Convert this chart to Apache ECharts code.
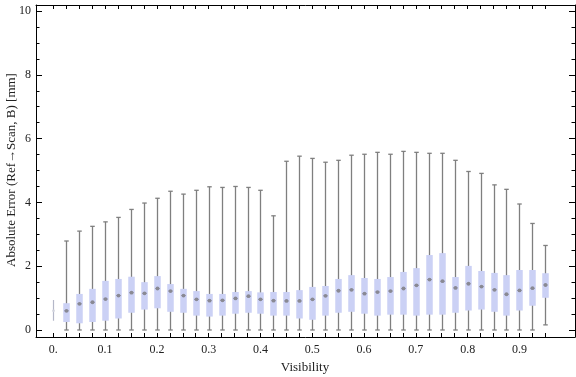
<!DOCTYPE html>
<html>
<head>
<meta charset="utf-8">
<script src="https://cdn.jsdelivr.net/npm/echarts@6/dist/echarts.min.js"></script>
<style>
html,body{margin:0;padding:0;background:#fff;}
#chart{width:576px;height:377px;}
</style>
</head>
<body>
<div id="chart"></div>
<script>
// ---- data ----
const visibility = [0, 0.025, 0.05, 0.075, 0.1, 0.125, 0.15, 0.175, 0.2, 0.225,
  0.25, 0.275, 0.3, 0.325, 0.35, 0.375, 0.4, 0.425, 0.45, 0.475,
  0.5, 0.525, 0.55, 0.575, 0.6, 0.625, 0.65, 0.675, 0.7, 0.725,
  0.75, 0.775, 0.8, 0.825, 0.85, 0.875, 0.9, 0.925, 0.95];
const minVals = [0.29, 0, 0, 0, 0, 0, 0, 0, 0, 0,
  0, 0, 0, 0, 0, 0, 0, 0, 0, 0,
  0, 0, 0, 0, 0, 0, 0, 0, 0, 0,
  0, 0, 0, 0, 0, 0, 0, 0, 0.16];
const q1Vals = [null, 0.25, 0.21, 0.25, 0.29, 0.36, 0.54, 0.64, 0.68, 0.57,
  0.54, 0.45, 0.42, 0.45, 0.51, 0.54, 0.51, 0.45, 0.45, 0.36,
  0.32, 0.45, 0.54, 0.57, 0.51, 0.45, 0.48, 0.48, 0.45, 0.48,
  0.48, 0.54, 0.61, 0.64, 0.57, 0.45, 0.61, 0.76, 1.01];
const medianVals = [0.60, 0.60, 0.82, 0.87, 0.97, 1.08, 1.17, 1.15, 1.30, 1.22,
  1.08, 0.96, 0.92, 0.93, 0.99, 1.06, 0.96, 0.92, 0.91, 0.91,
  0.96, 1.07, 1.23, 1.26, 1.14, 1.19, 1.22, 1.30, 1.40, 1.58,
  1.53, 1.32, 1.45, 1.36, 1.26, 1.12, 1.24, 1.31, 1.41];
const q3Vals = [null, 0.84, 1.13, 1.29, 1.54, 1.60, 1.67, 1.50, 1.69, 1.44,
  1.29, 1.22, 1.13, 1.13, 1.19, 1.22, 1.18, 1.19, 1.19, 1.25,
  1.35, 1.38, 1.60, 1.72, 1.63, 1.60, 1.66, 1.82, 1.94, 2.35,
  2.41, 1.66, 2.01, 1.85, 1.79, 1.72, 1.88, 1.88, 1.78];
const maxVals = [0.94, 2.79, 3.10, 3.25, 3.39, 3.53, 3.78, 3.98, 4.13, 4.35,
  4.26, 4.38, 4.49, 4.47, 4.50, 4.47, 4.38, 3.58, 5.29, 5.45,
  5.38, 5.26, 5.32, 5.48, 5.51, 5.57, 5.51, 5.60, 5.57, 5.54,
  5.54, 5.32, 4.97, 4.91, 4.55, 4.41, 3.95, 3.34, 2.65];
const xLabelValues = [0, 0.1, 0.2, 0.3, 0.4, 0.5, 0.6, 0.7, 0.8, 0.9];
const yMajorValues = [0, 2, 4, 6, 8, 10];
const yMinorValues = [0.5, 1, 1.5, 2.5, 3, 3.5, 4.5, 5, 5.5, 6.5, 7, 7.5, 8.5, 9, 9.5];

const XMIN = -0.0334, XMAX = 1.0073;
const YMIN = -0.22, YMAX = 10.19;
const FONT = '"Liberation Serif", "DejaVu Serif", serif';
const BOX_FILL = '#cbd1f5';
const WHISKER = '#7f7f7f';

const data = visibility.map((v, i) => [v, minVals[i], q1Vals[i] == null ? medianVals[i] : q1Vals[i], medianVals[i], q3Vals[i] == null ? medianVals[i] : q3Vals[i], maxVals[i]]);

function renderItem(params, api) {
  const i = params.dataIndex;
  const x = api.value(0);
  const pMin = api.coord([x, api.value(1)]);
  const pQ1 = api.coord([x, api.value(2)]);
  const pMed = api.coord([x, api.value(3)]);
  const pQ3 = api.coord([x, api.value(4)]);
  const pMax = api.coord([x, api.value(5)]);
  const cx = Math.round(pMin[0]) + 0.5;
  const children = [];
  if (q1Vals[i] == null) {
    children.push({type: 'line', shape: {x1: cx, y1: pMin[1], x2: cx, y2: pMax[1]}, style: {stroke: '#b4b7c8', lineWidth: 1.2}});
    children.push({type: 'circle', shape: {cx: cx, cy: pMed[1], r: 1.3}, style: {fill: '#d0d2dc'}});
    return {type: 'group', children};
  }
  const bw = 6.5, cw = 4.5;
  children.push({type: 'line', shape: {x1: cx, y1: pMin[1], x2: cx, y2: pMax[1]}, style: {stroke: WHISKER, lineWidth: 1.3}});
  children.push({type: 'line', shape: {x1: cx - cw / 2, y1: pMax[1], x2: cx + cw / 2, y2: pMax[1]}, style: {stroke: WHISKER, lineWidth: 1.3}});
  children.push({type: 'line', shape: {x1: cx - cw / 2, y1: pMin[1], x2: cx + cw / 2, y2: pMin[1]}, style: {stroke: WHISKER, lineWidth: 1.3}});
  children.push({type: 'rect', shape: {x: cx - bw / 2, y: pQ3[1], width: bw, height: pQ1[1] - pQ3[1]}, style: {fill: BOX_FILL}});
  children.push({type: 'circle', shape: {cx: cx, cy: pMed[1], r: 1.9}, style: {fill: '#8a8a94'}});
  children.push({type: 'line', shape: {x1: cx - 2.2, y1: pMed[1], x2: cx + 2.2, y2: pMed[1]}, style: {stroke: '#8a8a94', lineWidth: 1}});
  return {type: 'group', children};
}

const axisLineStyle = {show: true, onZero: false, lineStyle: {color: '#000', width: 1}};
const noLine = {show: false, onZero: false};
const chart = echarts.init(document.getElementById('chart'), null, {renderer: 'canvas'});
chart.setOption({
  animation: false,
  backgroundColor: '#fff',
  grid: {left: 36, right: 1, top: 5, bottom: 40, containLabel: false},
  xAxis: [
    {type: 'value', position: 'bottom', min: XMIN, max: XMAX, axisLine: axisLineStyle,
      axisTick: {show: true, inside: true, length: 4, customValues: visibility, lineStyle: {color: '#000'}},
      axisLabel: {show: true, customValues: xLabelValues, margin: 7, fontFamily: FONT, fontSize: 12, color: '#222',
        formatter: v => (v === 0 ? '0.' : (+v).toFixed(1))},
      splitLine: {show: false}},
    {type: 'value', position: 'top', min: XMIN, max: XMAX, axisLine: axisLineStyle,
      axisTick: {show: true, inside: true, length: 4, customValues: visibility, lineStyle: {color: '#000'}},
      axisLabel: {show: false}, splitLine: {show: false}}
  ],
  yAxis: [
    {type: 'value', position: 'left', min: YMIN, max: YMAX, axisLine: axisLineStyle,
      axisTick: {show: true, inside: true, length: 6, customValues: yMajorValues, lineStyle: {color: '#000'}},
      axisLabel: {show: true, customValues: yMajorValues, margin: 5, fontFamily: FONT, fontSize: 12, color: '#222'},
      splitLine: {show: false}},
    {type: 'value', position: 'left', min: YMIN, max: YMAX, axisLine: noLine,
      axisTick: {show: true, inside: true, length: 3.5, customValues: yMinorValues, lineStyle: {color: '#000'}},
      axisLabel: {show: false}, splitLine: {show: false}},
    {type: 'value', position: 'right', min: YMIN, max: YMAX, axisLine: axisLineStyle,
      axisTick: {show: true, inside: true, length: 6, customValues: yMajorValues, lineStyle: {color: '#000'}},
      axisLabel: {show: false}, splitLine: {show: false}},
    {type: 'value', position: 'right', min: YMIN, max: YMAX, axisLine: noLine,
      axisTick: {show: true, inside: true, length: 3.5, customValues: yMinorValues, lineStyle: {color: '#000'}},
      axisLabel: {show: false}, splitLine: {show: false}}
  ],
  graphic: [
    {type: 'text', x: 305, y: 368,
      style: {text: 'Visibility', fontFamily: FONT, fontSize: 13, fill: '#222', align: 'center', verticalAlign: 'middle'}},
    {type: 'text', rotation: Math.PI / 2, x: 12, y: 170,
      style: {text: 'Absolute Error (Ref\u2192Scan, B) [mm]', fontFamily: FONT, fontSize: 13, fill: '#222', align: 'center', verticalAlign: 'middle'}}
  ],
  series: [{
    type: 'custom', xAxisIndex: 0, yAxisIndex: 0, renderItem: renderItem,
    encode: {x: 0, y: [1, 2, 3, 4, 5]}, data: data, clip: false
  }]
});
</script>
</body>
</html>
